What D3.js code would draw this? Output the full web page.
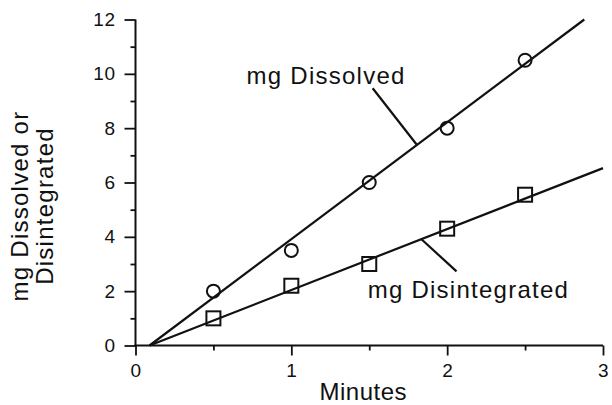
<!DOCTYPE html>
<html><head><meta charset="utf-8">
<script src="https://cdn.jsdelivr.net/npm/d3@7"></script>
<style>html,body{margin:0;padding:0;background:#fff;} svg{display:block;font-family:"Liberation Sans",Arial,Helvetica,sans-serif;}</style>
</head><body>
<script>
const minutes = [0.5, 1, 1.5, 2, 2.5];
const dissolved = [2.0, 3.5, 6.0, 8.0, 10.5];
const disintegrated = [1.0, 2.2, 3.0, 4.3, 5.55];
const dissolvedFit = [[0.09, 0], [2.88, 12]];
const disintegratedFit = [[0.09, 0], [3.0, 6.53]];
const xMajor = [0, 1, 2, 3];
const xMinor = [0.5, 1.5, 2.5];
const yMajor = [0, 2, 4, 6, 8, 10, 12];
const yMinor = [1, 3, 5, 7, 9, 11];
const dissolvedLeader = [[1.522, 9.47], [1.804, 7.40]];
const disintegratedLeader = [[1.835, 3.91], [2.06, 2.73]];
const labels = [
  {text: "mg Dissolved", x: 0.713, y: 9.61},
  {text: "mg Disintegrated", x: 1.49, y: 1.76}
];

const W = 612, H = 405;
const svg = d3.select("body").append("svg").attr("width", W).attr("height", H);
const x = d3.scaleLinear().domain([0, 3]).range([135.5, 603]);
const y = d3.scaleLinear().domain([0, 12]).range([345.5, 19.5]);
const ink = "#111";

// y axis
const gy = svg.append("g").attr("transform", `translate(${x(0)},0)`);
gy.call(d3.axisLeft(y).tickValues(yMajor).tickSize(11).tickPadding(9).tickFormat(d3.format("d")));
const gy2 = svg.append("g").attr("transform", `translate(${x(0)},0)`);
gy2.call(d3.axisLeft(y).tickValues(yMinor).tickSize(5).tickFormat(""));
gy2.select(".domain").remove();

// x axis
const gx = svg.append("g").attr("transform", `translate(0,${y(0)})`);
gx.call(d3.axisBottom(x).tickValues(xMajor).tickSize(10).tickPadding(8).tickFormat(d3.format("d")));
const gx2 = svg.append("g").attr("transform", `translate(0,${y(0)})`);
gx2.call(d3.axisBottom(x).tickValues(xMinor).tickSize(5).tickFormat(""));
gx2.select(".domain").remove();

svg.selectAll(".domain").attr("stroke", ink).attr("stroke-width", 2);
svg.selectAll(".tick line").attr("stroke", ink).attr("stroke-width", 1.8);
svg.selectAll(".tick text").attr("fill", ink).attr("font-size", 19).attr("letter-spacing", 0.5)
  .attr("font-family", "Liberation Sans, Arial, sans-serif");
gy.selectAll(".domain").attr("d", `M0,${y(0)+1}V${y(12)}`);
gx.selectAll(".domain").attr("d", `M${x(0)-1},0H${x(3)}`);

// fit lines
const line = d3.line().x(d => x(d[0])).y(d => y(d[1]));
[dissolvedFit, disintegratedFit, dissolvedLeader, disintegratedLeader].forEach(p => {
  svg.append("path").attr("d", line(p)).attr("fill", "none").attr("stroke", ink).attr("stroke-width", 2.2);
});

// markers
svg.selectAll("circle.m").data(minutes).enter().append("circle")
  .attr("cx", (d) => x(d)).attr("cy", (d, i) => y(dissolved[i])).attr("r", 6.5)
  .attr("fill", "none").attr("stroke", ink).attr("stroke-width", 2);
svg.selectAll("rect.m").data(minutes).enter().append("rect")
  .attr("x", d => x(d) - 7).attr("y", (d, i) => y(disintegrated[i]) - 7)
  .attr("width", 14).attr("height", 14)
  .attr("fill", "none").attr("stroke", ink).attr("stroke-width", 2);

// annotation labels
svg.selectAll("text.lab").data(labels).enter().append("text")
  .attr("x", d => x(d.x)).attr("y", d => y(d.y))
  .attr("font-size", 24).attr("fill", ink).attr("letter-spacing", 1.25)
  .text(d => d.text);

// axis titles
svg.append("text").attr("x", (x(0) + x(3)) / 2 - 6).attr("y", 400)
  .attr("text-anchor", "middle").attr("font-size", 24).attr("letter-spacing", 0.5)
  .attr("fill", ink).text("Minutes");
const yt = svg.append("text").attr("transform", `translate(28,206) rotate(-90)`)
  .attr("text-anchor", "middle").attr("font-size", 24).attr("letter-spacing", 1.25).attr("fill", ink);
yt.append("tspan").attr("x", 0).attr("dy", 0).text("mg Dissolved or");
yt.append("tspan").attr("x", 0).attr("dy", 25).text("Disintegrated");
</script>
</body></html>
